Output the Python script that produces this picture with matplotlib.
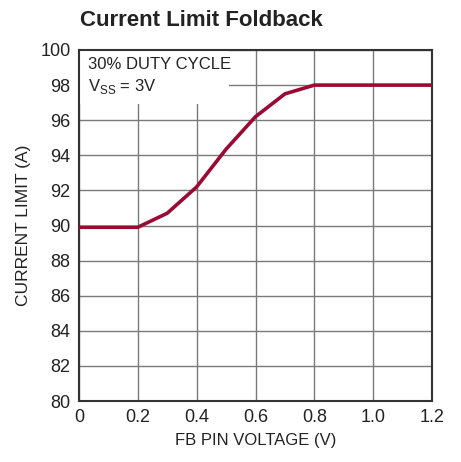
import matplotlib
matplotlib.use("Agg")
import matplotlib.pyplot as plt
from matplotlib.patches import Rectangle

fb_voltage = [0.0, 0.2, 0.3, 0.4, 0.5, 0.6, 0.7, 0.8, 1.2]
current_limit = [89.9, 89.9, 90.7, 92.2, 94.35, 96.2, 97.5, 98.0, 98.0]
x_ticks = [0, 0.2, 0.4, 0.6, 0.8, 1.0, 1.2]
x_tick_labels = ["0", "0.2", "0.4", "0.6", "0.8", "1.0", "1.2"]
y_ticks = [80, 82, 84, 86, 88, 90, 92, 94, 96, 98, 100]

plt.rcParams['font.family'] = ['Liberation Sans', 'DejaVu Sans']

fig = plt.figure(figsize=(4.61, 4.62), dpi=100)
ax = fig.add_axes([79/461, 61/462, 353/461, 351/462])

ax.set_xlim(0, 1.2)
ax.set_ylim(80, 100)
ax.set_xticks(x_ticks)
ax.set_xticklabels(x_tick_labels)
ax.set_yticks(y_ticks)
ax.grid(True, color='#7a7a7a', linewidth=1.0)
ax.set_axisbelow(True)
ax.tick_params(length=0, labelsize=13, pad=6, colors='#222222')
for s in ax.spines.values():
    s.set_linewidth(1.5)
    s.set_color('#333333')

# white box covering grid behind annotation
ax.add_patch(Rectangle((0, 96.95), 0.51, 3.05, facecolor='white', edgecolor='none', zorder=1.5))

ax.plot(fb_voltage, current_limit, color='#9b0a33', linewidth=2.6, zorder=3)

ax.text(0.03, 99.2, "30% DUTY CYCLE", fontsize=12, va='center', ha='left', color='#222222', zorder=4)
ax.text(0.03, 97.9, "V$_{\\mathregular{SS}}$ = 3V", fontsize=12, va='center', ha='left', color='#222222', zorder=4)

ax.set_xlabel("FB PIN VOLTAGE (V)", fontsize=12, color='#222222', labelpad=5)
ax.set_ylabel("CURRENT LIMIT (A)", fontsize=12.5, color='#222222', labelpad=7)

fig.text(80/461, 1 - 20/462, "Current Limit Foldback", fontsize=16, fontweight='bold',
         va='center', ha='left', color='#222222')

fig.savefig("out.png", dpi=100)
